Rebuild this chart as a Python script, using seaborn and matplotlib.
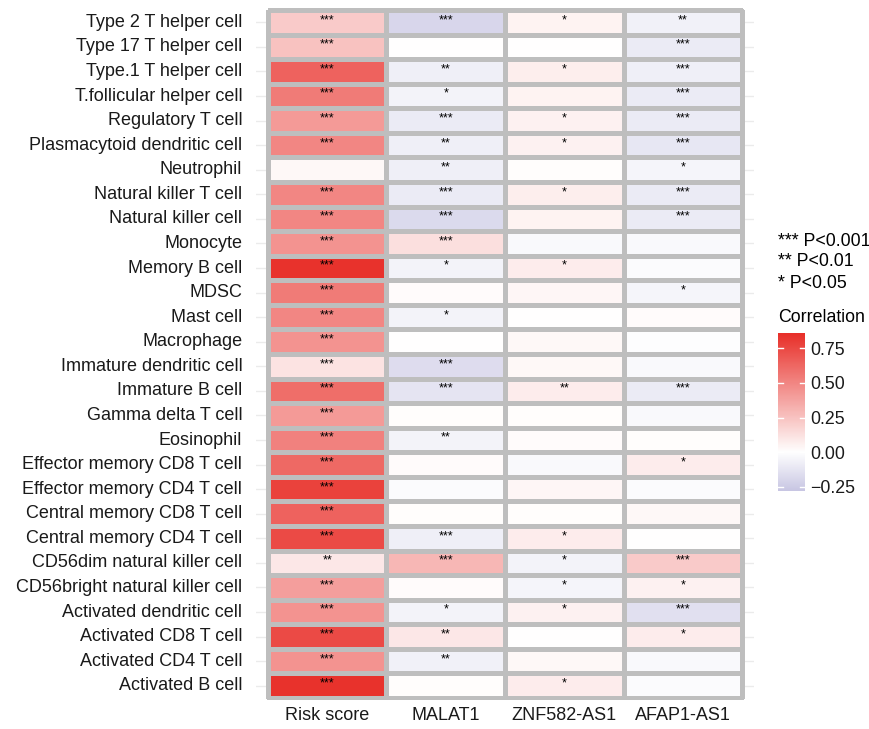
import numpy as np
import pandas as pd
import matplotlib
matplotlib.use("Agg")
import matplotlib.pyplot as plt
import seaborn as sns
from matplotlib.colors import LinearSegmentedColormap

cells = ["Type 2 T helper cell", "Type 17 T helper cell", "Type.1 T helper cell",
         "T.follicular helper cell", "Regulatory T cell", "Plasmacytoid dendritic cell",
         "Neutrophil", "Natural killer T cell", "Natural killer cell", "Monocyte",
         "Memory B cell", "MDSC", "Mast cell", "Macrophage", "Immature dendritic cell",
         "Immature B cell", "Gamma delta T cell", "Eosinophil",
         "Effector memory CD8 T cell", "Effector memory CD4 T cell",
         "Central memory CD8 T cell", "Central memory CD4 T cell",
         "CD56dim natural killer cell", "CD56bright natural killer cell",
         "Activated dendritic cell", "Activated CD8 T cell", "Activated CD4 T cell",
         "Activated B cell"]
genes = ["Risk score", "MALAT1", "ZNF582-AS1", "AFAP1-AS1"]

risk = [0.22, 0.25, 0.65, 0.55, 0.42, 0.50, 0.03, 0.50, 0.50, 0.45, 0.85, 0.55, 0.50, 0.45,
        0.12, 0.60, 0.42, 0.52, 0.62, 0.78, 0.65, 0.75, 0.10, 0.40, 0.45, 0.75, 0.45, 0.85]
malat1 = [-0.20, 0.0, -0.08, -0.06, -0.10, -0.08, -0.08, -0.10, -0.18, 0.13, -0.06, 0.02, -0.06, 0.0,
          -0.17, -0.13, 0.01, -0.06, 0.02, -0.02, 0.01, -0.08, 0.30, 0.02, -0.06, 0.10, -0.07, 0.01]
znf = [0.05, 0.0, 0.07, 0.05, 0.06, 0.06, 0.01, 0.07, 0.05, -0.03, 0.08, 0.04, 0.0, 0.03,
       0.03, 0.08, 0.01, 0.02, -0.03, 0.04, 0.01, 0.08, -0.06, -0.05, 0.06, 0.0, 0.03, 0.08]
afap = [-0.07, -0.10, -0.08, -0.10, -0.10, -0.12, -0.05, -0.10, -0.10, -0.03, -0.02, -0.05, 0.02, -0.01,
        -0.03, -0.10, -0.03, 0.01, 0.08, -0.02, 0.03, 0.0, 0.22, 0.06, -0.15, 0.08, -0.03, -0.02]

sig_risk = ["***"] * 6 + [""] + ["***"] * 15 + ["**"] + ["***"] * 5
sig_malat1 = ["***", "", "**", "*", "***", "**", "**", "***", "***", "***", "*", "", "*", "",
              "***", "***", "", "**", "", "", "", "***", "***", "", "*", "**", "**", ""]
sig_znf = ["*", "", "*", "", "*", "*", "", "*", "", "", "*", "", "", "",
           "", "**", "", "", "", "", "", "*", "*", "*", "*", "", "", "*"]
sig_afap = ["**", "***", "***", "***", "***", "***", "*", "***", "***", "", "", "*", "", "",
            "", "***", "", "", "*", "", "", "", "***", "*", "***", "*", "", ""]

vals = pd.DataFrame({"Risk score": risk, "MALAT1": malat1, "ZNF582-AS1": znf, "AFAP1-AS1": afap},
                    index=cells)
sigs = pd.DataFrame({"Risk score": sig_risk, "MALAT1": sig_malat1, "ZNF582-AS1": sig_znf,
                     "AFAP1-AS1": sig_afap}, index=cells)

plt.rcParams['font.family'] = ['Liberation Sans', 'DejaVu Sans']
cmap = LinearSegmentedColormap.from_list("rw", ["#C8C6E3", "#FFFFFF", "#E8302A"])
vmin, vmax = -0.28, 0.86
norm = matplotlib.colors.TwoSlopeNorm(vmin=vmin, vcenter=0, vmax=vmax)

fig = plt.figure(figsize=(8.7, 7.29), dpi=100)
# tiles span x 268..742, y 10..698 px; axes padded by 0.1 cell on each side
cw, rh = 474 / 4, 688 / 28
ax = fig.add_axes([(268 - 0.1 * cw) / 870, 1 - (698 + 0.1 * rh) / 729,
                   4.2 * cw / 870, 28.2 * rh / 729])
n = len(cells)
for i in range(n):
    ax.axhline(i + 0.5, color="#EBEBEB", lw=1, zorder=0)
sns.heatmap(vals, ax=ax, cmap=cmap, norm=norm, annot=sigs, fmt="", cbar=False,
            linewidths=2.2, linecolor="#BEBEBE",
            annot_kws={"fontsize": 9, "color": "black", "va": "top"})
for t in ax.texts:
    x, y = t.get_position()
    t.set_position((x, y - 0.33))
ax.set_xlim(-0.1, 4.1)
ax.set_ylim(n + 0.1, -0.1)
for s in ax.spines.values():
    s.set_visible(False)
ax.tick_params(axis="y", length=0, labelsize=13, colors="#1A1A1A", pad=10)
ax.tick_params(axis="x", length=0, labelsize=13, colors="#1A1A1A", pad=5)
ax.set_xlabel("")
ax.set_ylabel("")
ax.set_yticklabels(cells, rotation=0)
ax.set_xticklabels(genes, rotation=0)
ax.patch.set_alpha(0)

fs = 12.8
fig.text(778 / 870, 1 - 241 / 729, "*** P<0.001", fontsize=fs, va="center")
fig.text(778 / 870, 1 - 262 / 729, "** P<0.01", fontsize=fs, va="center")
fig.text(778 / 870, 1 - 283 / 729, "* P<0.05", fontsize=fs, va="center")
fig.text(778 / 870, 1 - 317 / 729, "Correlation", fontsize=fs, va="center")

cax = fig.add_axes([778 / 870, 1 - 491 / 729, 27 / 870, 158 / 729])
grad = np.linspace(vmin, vmax, 200).reshape(-1, 1)
cax.imshow(grad, cmap=cmap, norm=norm, aspect="auto", origin="lower",
           extent=[0, 1, vmin, vmax])
cax.set_xticks([])
cax.yaxis.tick_right()
ticks = [-0.25, 0.0, 0.25, 0.5, 0.75]
cax.set_yticks(ticks)
cax.set_yticklabels(["\u22120.25", "0.00", "0.25", "0.50", "0.75"])
cax.tick_params(axis="y", length=0, labelsize=fs, colors="#1A1A1A", pad=4)
for tk in ticks:
    cax.plot([0, 0.2], [tk, tk], color="white", lw=1)
    cax.plot([0.8, 1], [tk, tk], color="white", lw=1)
for s in cax.spines.values():
    s.set_visible(False)

fig.savefig("out.png", dpi=100)
